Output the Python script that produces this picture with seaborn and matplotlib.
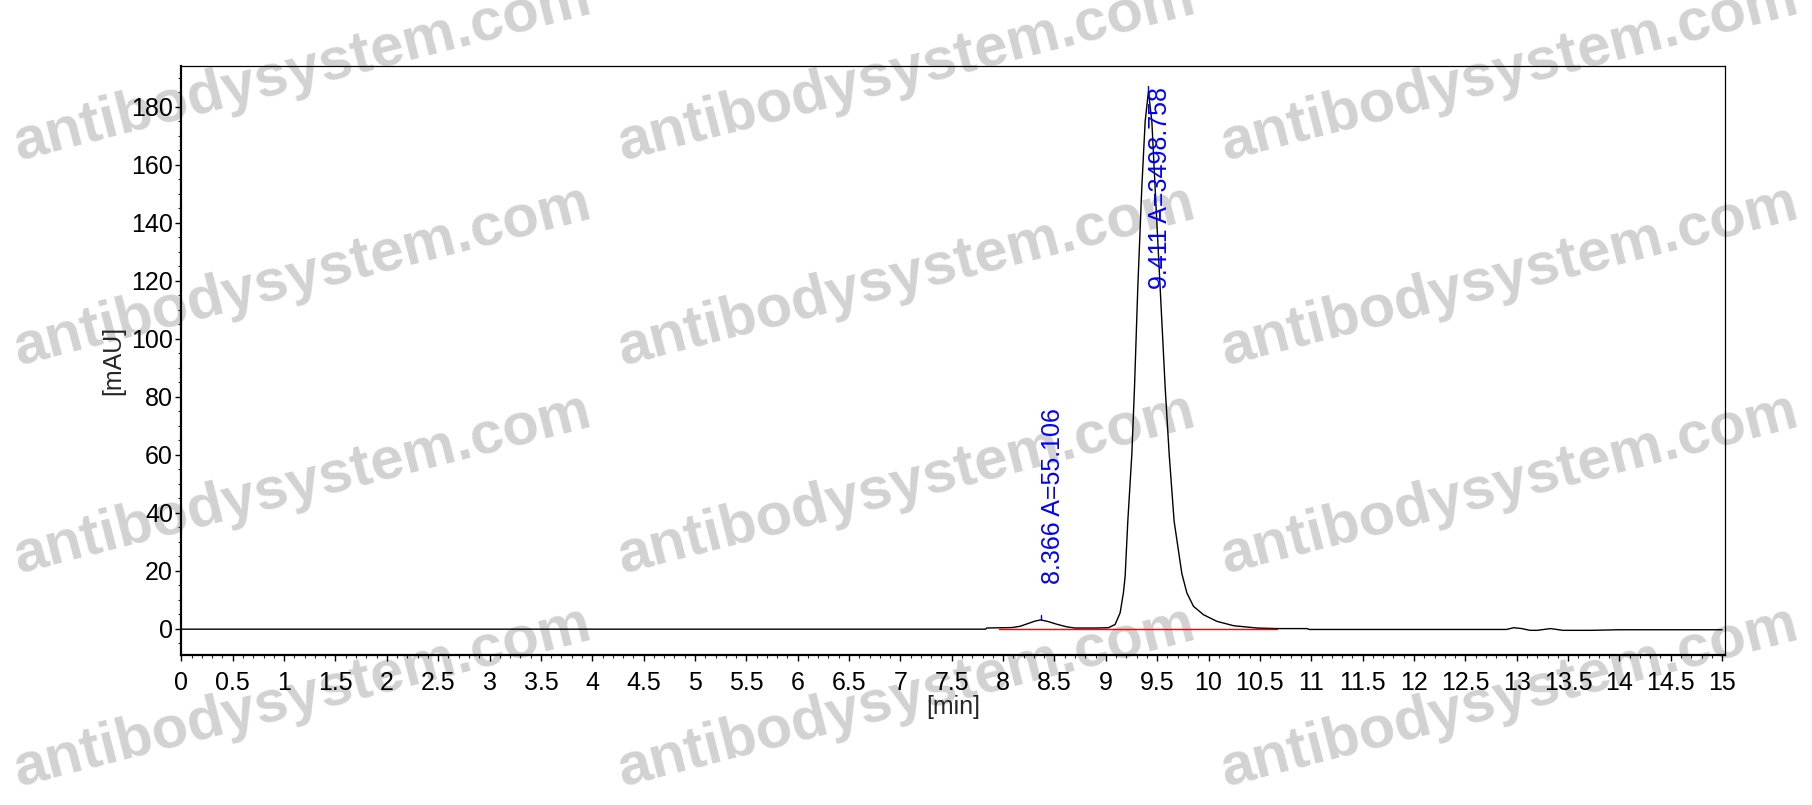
import numpy as np
import pandas as pd
import matplotlib
matplotlib.use("Agg")
import matplotlib.pyplot as plt
from matplotlib.ticker import MultipleLocator, FormatStrFormatter, FuncFormatter
import seaborn as sns

# chromatogram trace (time in min, signal in mAU)
time_min = [0.0, 7.83, 7.84, 8.085, 8.166, 8.247, 8.312, 8.367, 8.441, 8.523,
            8.62, 8.70, 8.91, 9.025, 9.09, 9.139, 9.171, 9.188, 9.214, 9.253,
            9.279, 9.311, 9.350, 9.383, 9.415, 9.448, 9.480, 9.529, 9.578, 9.617,
            9.665, 9.740, 9.789, 9.853, 9.950, 10.081, 10.243, 10.470, 10.665, 10.96,
            10.98, 12.90, 12.97, 13.05, 13.13, 13.20, 13.33, 13.45, 13.72, 14.0, 15.0]
signal_mau = [-0.2, -0.2, 0.2, 0.35, 0.8, 1.8, 2.6, 3.0, 2.4, 1.5,
              0.6, 0.2, 0.2, 0.3, 1.4, 5.4, 12.3, 18.0, 37.0, 60.0,
              83.0, 117.4, 151.9, 174.9, 185.3, 174.9, 151.9, 117.4, 83.0, 60.0,
              37.0, 19.0, 12.3, 7.7, 4.8, 2.5, 1.0, 0.2, 0.0, 0.0,
              -0.3, -0.3, 0.3, 0.0, -0.6, -0.6, 0.0, -0.6, -0.6, -0.4, -0.4]

# integration baseline
baseline_t = [7.96, 10.67]
baseline_y = [0.0, 0.0]

# peak annotations
peak_rt = [8.366, 9.411]
peak_apex = [3.0, 185.3]
peak_labels = ["8.366 A=55.106", "9.411 A=3498.758"]
label_y = [15.5, 117.0]

watermark = "antibodysystem.com"

df = pd.DataFrame({"t": time_min, "mAU": signal_mau})

sns.set_style("ticks")
plt.rcParams["font.family"] = ["Liberation Sans", "DejaVu Sans"]

fig = plt.figure(figsize=(18.12, 8.05), dpi=100)
ax = fig.add_axes([0.1001, 0.186, 0.852, 0.732])
ax.patch.set_alpha(0)
ax.set_zorder(1)

# watermark grid behind everything
for yf in [0.911, 0.657, 0.398, 0.133]:
    for xf in [0.167, 0.5, 0.833]:
        fig.text(xf, yf, watermark, fontsize=43, fontweight="bold", color="#d2d2d2",
                 rotation=14.4, ha="center", va="center", zorder=-5)

sns.lineplot(data=df, x="t", y="mAU", color="black", linewidth=1.0, ax=ax, zorder=3)
ax.plot(baseline_t, baseline_y, color="#ff0000", linewidth=1.0, zorder=2)

for rt, apex, lab, ly in zip(peak_rt, peak_apex, peak_labels, label_y):
    ax.plot([rt, rt], [apex, apex + 1.7], color="#0000ff", linewidth=1.0, zorder=4)
    ax.text(rt, ly, lab, rotation=90, ha="left", va="bottom", color="#0000ff",
            fontsize=18, zorder=5)

ax.set_xlim(0, 15.03)
ax.set_ylim(-9.2, 194.0)

ax.xaxis.set_major_locator(MultipleLocator(0.5))
ax.xaxis.set_minor_locator(MultipleLocator(0.1))
ax.xaxis.set_major_formatter(FuncFormatter(lambda v, p: f"{v:g}"))
ax.yaxis.set_major_locator(MultipleLocator(20))
ax.yaxis.set_minor_locator(MultipleLocator(5))
ax.yaxis.set_major_formatter(FormatStrFormatter("%d"))

ax.tick_params(axis="both", which="major", direction="out", length=4, width=1,
               labelsize=18, pad=2, colors="black")
ax.tick_params(axis="x", which="major", pad=7)
ax.tick_params(axis="both", which="minor", direction="out", length=2.5, width=0.8)

for side in ["left", "bottom"]:
    ax.spines[side].set_linewidth(1.6)
for side in ["top", "right"]:
    ax.spines[side].set_linewidth(0.9)
for sp in ax.spines.values():
    sp.set_color("black")

ax.set_xlabel("[min]", fontsize=18, labelpad=0)
ax.set_ylabel("[mAU]", fontsize=18, labelpad=4)

fig.savefig("out.png", dpi=100, facecolor="white")
